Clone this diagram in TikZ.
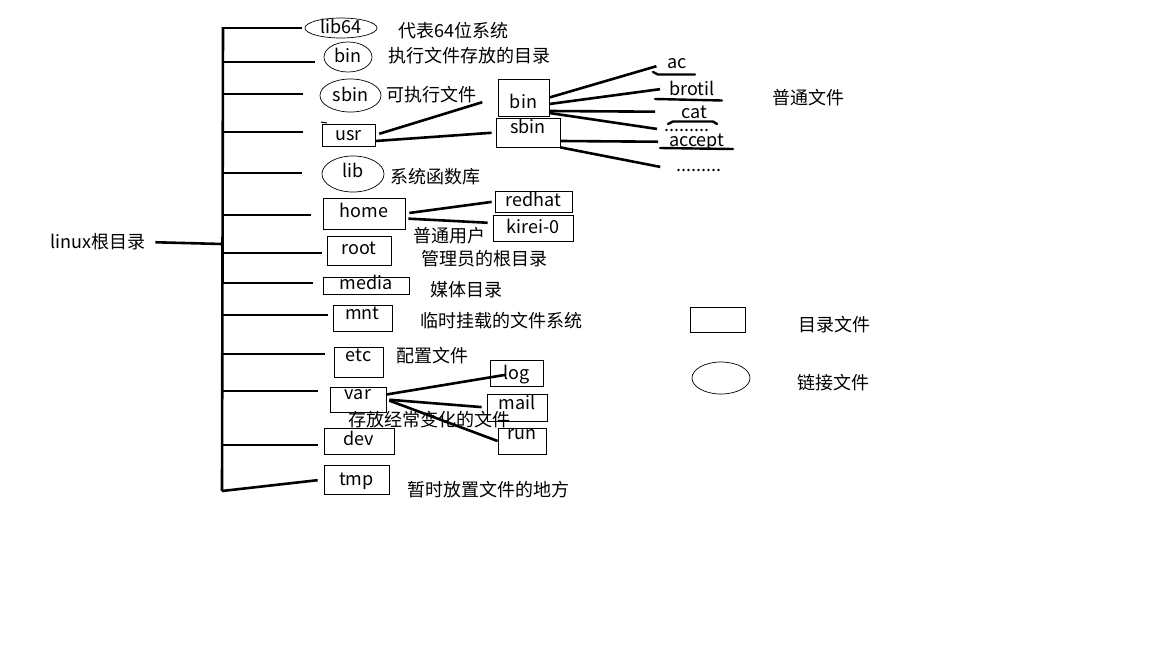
\documentclass[tikz,border=0pt]{standalone}
\usepackage{fontspec}
\setmainfont{Noto Sans CJK SC}
\usetikzlibrary{shapes.geometric}

\tikzset{
  dir/.style={draw, rectangle, inner sep=0pt, line width=0.8pt, text height=12pt, text depth=4pt},
  link/.style={draw, ellipse, inner sep=0pt, line width=0.7pt, text height=11pt, text depth=0pt},
  note/.style={anchor=west, inner sep=0pt},
  leaf/.style={anchor=base west, inner sep=0pt},
  branch/.style={line width=2.6pt},
  scribble/.style={line width=2.4pt, line cap=round},
}

\begin{document}
\begin{tikzpicture}[x=1pt, y=-1pt, font=\fontsize{18}{20}\selectfont]
\useasboundingbox (0,0) rectangle (1152,648);

% root and trunk
\node[note] (linux) at (50,242) {linux根目录};
\coordinate (top) at (223,27);
\coordinate (bot) at (222,491);
\coordinate (tlinux) at (222,244);
\draw[branch] (top) -- (bot);
\draw[branch, shorten <=10pt] (linux.east) -- (tlinux);

% first level
\node[link, minimum width=72pt, minimum height=20pt] (lib64) at (341,28) {lib64};
\node[link, minimum width=48pt, minimum height=30pt] (bin) at (348,57) {bin};
\node[link, minimum width=61pt, minimum height=33pt] (sbin) at (350.5,95.5) {sbin};
\node[dir, minimum width=53pt, minimum height=22pt, text depth=2pt] (usr) at (348.5,135) {usr};
\node[link, minimum width=62pt, minimum height=36pt, text height=8pt, text depth=2pt] (lib) at (353,174) {lib};
\node[dir, minimum width=82pt, minimum height=31pt, text depth=5pt] (home) at (364,213.5) {home};
\node[dir, minimum width=64pt, minimum height=29pt, text depth=5pt] (root) at (359,250.5) {root};
\node[dir, minimum width=86pt, minimum height=17pt, text height=11pt] (media) at (366,285.5) {media};
\node[dir, minimum width=59pt, minimum height=26pt, text depth=10pt] (mnt) at (362.5,318) {mnt};
\node[dir, minimum width=49pt, minimum height=30pt, text depth=14pt] (etc) at (358.5,362) {etc};
\node[dir, minimum width=56pt, minimum height=25pt, text height=11pt, text depth=12pt] (var) at (358,399.5) {var};
\node[dir, minimum width=70pt, minimum height=26pt] (dev) at (359,441) {dev};
\node[dir, minimum width=65pt, minimum height=29pt, text depth=1pt] (tmp) at (356.5,479.5) {tmp};
\draw[line width=1pt] (321,122) -- (327,123);

\foreach \n/\y/\g in {lib64/28/3pt, bin/62/9pt, sbin/94/17pt, usr/132/19pt, lib/173/20pt,
    home/215/12pt, root/253/5pt, media/283/10pt, mnt/315/5pt, etc/354/9pt, var/391/12pt, dev/445/6pt}
  \draw[branch, shorten >=\g] (223,\y) coordinate (t\n) -- (t\n -| \n.west);
\draw[branch, shorten >=6pt] (bot) -- (tmp.west);

% notes
\node[note] (n-lib64) at (398,31) {代表64位系统};
\node[note] (n-bin) at (388,56) {执行文件存放的目录};
\node[note] (n-sbin) at (386,95) {可执行文件};
\node[note] (n-lib) at (390,177) {系统函数库};
\node[note] (n-home) at (413,236) {普通用户};
\node[note] (n-root) at (421,259) {管理员的根目录};
\node[note] (n-media) at (430,290) {媒体目录};
\node[note] (n-mnt) at (420,321) {临时挂载的文件系统};
\node[note] (n-etc) at (396,356) {配置文件};
\node[note] (n-tmp) at (407,490) {暂时放置文件的地方};

% second level
\node[dir, minimum width=51pt, minimum height=37pt, text height=23pt, text depth=2pt] (ubin) at (523.5,97.5) {bin};
\node[dir, minimum width=64pt, minimum height=29pt, text depth=11pt] (usbin) at (528,132.5) {sbin};
\node[dir, minimum width=77pt, minimum height=21pt, text depth=3pt] (redhat) at (533.5,201.5) {redhat};
\node[dir, minimum width=80pt, minimum height=26pt, text depth=2pt] (kirei) at (533,228) {kirei-0};
\node[dir, minimum width=53pt, minimum height=26pt, text depth=0pt] (log) at (516.5,373) {log};
\node[dir, minimum width=60pt, minimum height=27pt, text depth=9pt] (mail) at (517,407.5) {mail};
\node[dir, minimum width=48pt, minimum height=26pt, text height=10pt, text depth=14pt] (run) at (522,441) {run};
\node[note] (n-var) at (348,420) {存放经常变化的文件};

\draw[branch, shorten <=4pt, shorten >=16pt] (usr.east) -- (ubin.west);
\draw[branch, shorten >=4pt] ([yshift=-6pt]usr.east) -- (usbin.west);
\draw[branch, shorten <=4pt, shorten >=3pt] (home.east) -- (redhat.west);
\draw[branch, shorten <=3pt, shorten >=5pt] ([yshift=-5pt]home.east) -- ([yshift=5pt]kirei.west);
\draw[branch, shorten >=11pt] ([yshift=5pt]var.east) -- (log.center);
\draw[branch, shorten <=3pt, shorten >=5pt] (var.east) -- (mail.west);
\draw[branch, shorten <=3pt] (var.east) -- (run.west);

% plain files
\node[leaf] (ac) at (667,68) {ac};
\node[leaf] (brotil) at (669,95) {brotil};
\node[leaf] (cat) at (681,118) {cat};
\node[leaf] (dots1) at (664,131) {.........};
\node[leaf] (accept) at (669,146) {accept};
\node[leaf] (dots2) at (676,171) {.........};
\node[note] (n-plain) at (772,98) {普通文件};

\draw[branch, shorten >=11pt] (ubin.east) -- (ac.west);
\draw[branch, shorten >=9pt] ([yshift=-6.5pt]ubin.east) -- (brotil.west);
\draw[branch, shorten >=26pt] ([yshift=-13.5pt]ubin.east) -- (cat.west);
\draw[branch, shorten >=7pt] ([yshift=-15.5pt]ubin.east) -- (dots1.west);
\draw[branch, shorten >=11pt] ([yshift=-8.5pt]usbin.east) -- (accept.west);
\draw[branch, shorten >=16pt] (usbin.south east) -- (dots2.west);

\draw[scribble] (653,72) -- (658,74.5) -- (695,74.5);
\draw[scribble] (655,99) -- (722,100.5);
\draw[scribble] (668,124) -- (673,121.5) -- (713,121.5) -- (717,124);
\draw[scribble] (660,148) -- (733,149);

% legend
\node[dir, minimum width=55pt, minimum height=25pt] (legdir) at (717.5,319.5) {};
\node[link, minimum width=58pt, minimum height=32pt] (leglink) at (721,378) {};
\node[note] (n-legdir) at (798,325) {目录文件};
\node[note] (n-leglink) at (797,383) {链接文件};
\end{tikzpicture}
\end{document}
